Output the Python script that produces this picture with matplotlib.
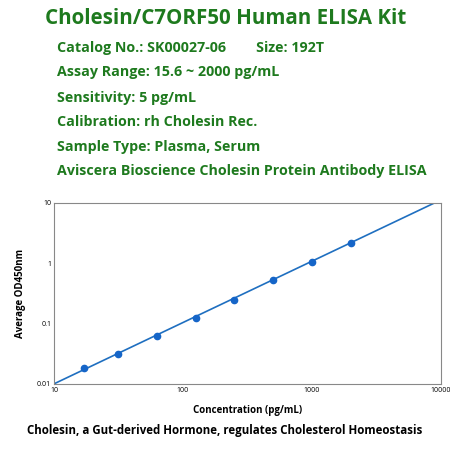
import numpy as np
import matplotlib.pyplot as plt

# data
conc = [17, 31.25, 62.5, 125, 250, 500, 1000, 2000]
od = [0.0185, 0.031, 0.062, 0.125, 0.25, 0.53, 1.03, 2.2]
fit_x = [10, 8900]
fit_y = [0.01, 10]

title = "Cholesin/C7ORF50 Human ELISA Kit"
info = ["Catalog No.: SK00027-06        Size: 192T",
        "Assay Range: 15.6 ~ 2000 pg/mL",
        "Sensitivity: 5 pg/mL",
        "Calibration: rh Cholesin Rec.",
        "Sample Type: Plasma, Serum",
        "Aviscera Bioscience Cholesin Protein Antibody ELISA"]
caption = "Cholesin, a Gut-derived Hormone, regulates Cholesterol Homeostasis"

green = "#1e7a1e"
plt.rcParams['font.family'] = ['Open Sans', 'DejaVu Sans']

fig = plt.figure(figsize=(4.5, 4.5), dpi=100)
fig.text(0.1, 0.958, title, color=green, fontsize=14.8, fontweight='bold', va='center')
ys = [0.893, 0.84, 0.783, 0.729, 0.674, 0.62]
for t, y in zip(info, ys):
    fig.text(0.127, y, t, color=green, fontsize=10.3, fontweight='bold', va='center')

ax = fig.add_axes([0.12, 0.147, 0.86, 0.402])
ax.set_xscale('log')
ax.set_yscale('log')
ax.set_xlim(10, 10000)
ax.set_ylim(0.01, 10)
ax.plot(fit_x, fit_y, color='#1f6fc0', lw=1.2)
ax.plot(conc, od, 'o', color='#1565c8', ms=4.5)
ax.set_xticks([10, 100, 1000, 10000])
ax.set_xticklabels(['10', '100', '1000', '10000'])
ax.set_yticks([0.01, 0.1, 1, 10])
ax.set_yticklabels(['0.01', '0.1', '1', '10'])
ax.minorticks_off()
ax.tick_params(length=0, labelsize=5, pad=2)
for s in ax.spines.values():
    s.set_color('#888888')
ax.set_xlabel("Concentration (pg/mL)", fontsize=7, fontweight='bold', labelpad=8)
ax.set_ylabel("Average OD450nm", fontsize=7, fontweight='bold', labelpad=8)
fig.text(0.5, 0.044, caption, fontsize=8.3, fontweight='bold', ha='center', va='center')

fig.savefig('out.png', dpi=100)
